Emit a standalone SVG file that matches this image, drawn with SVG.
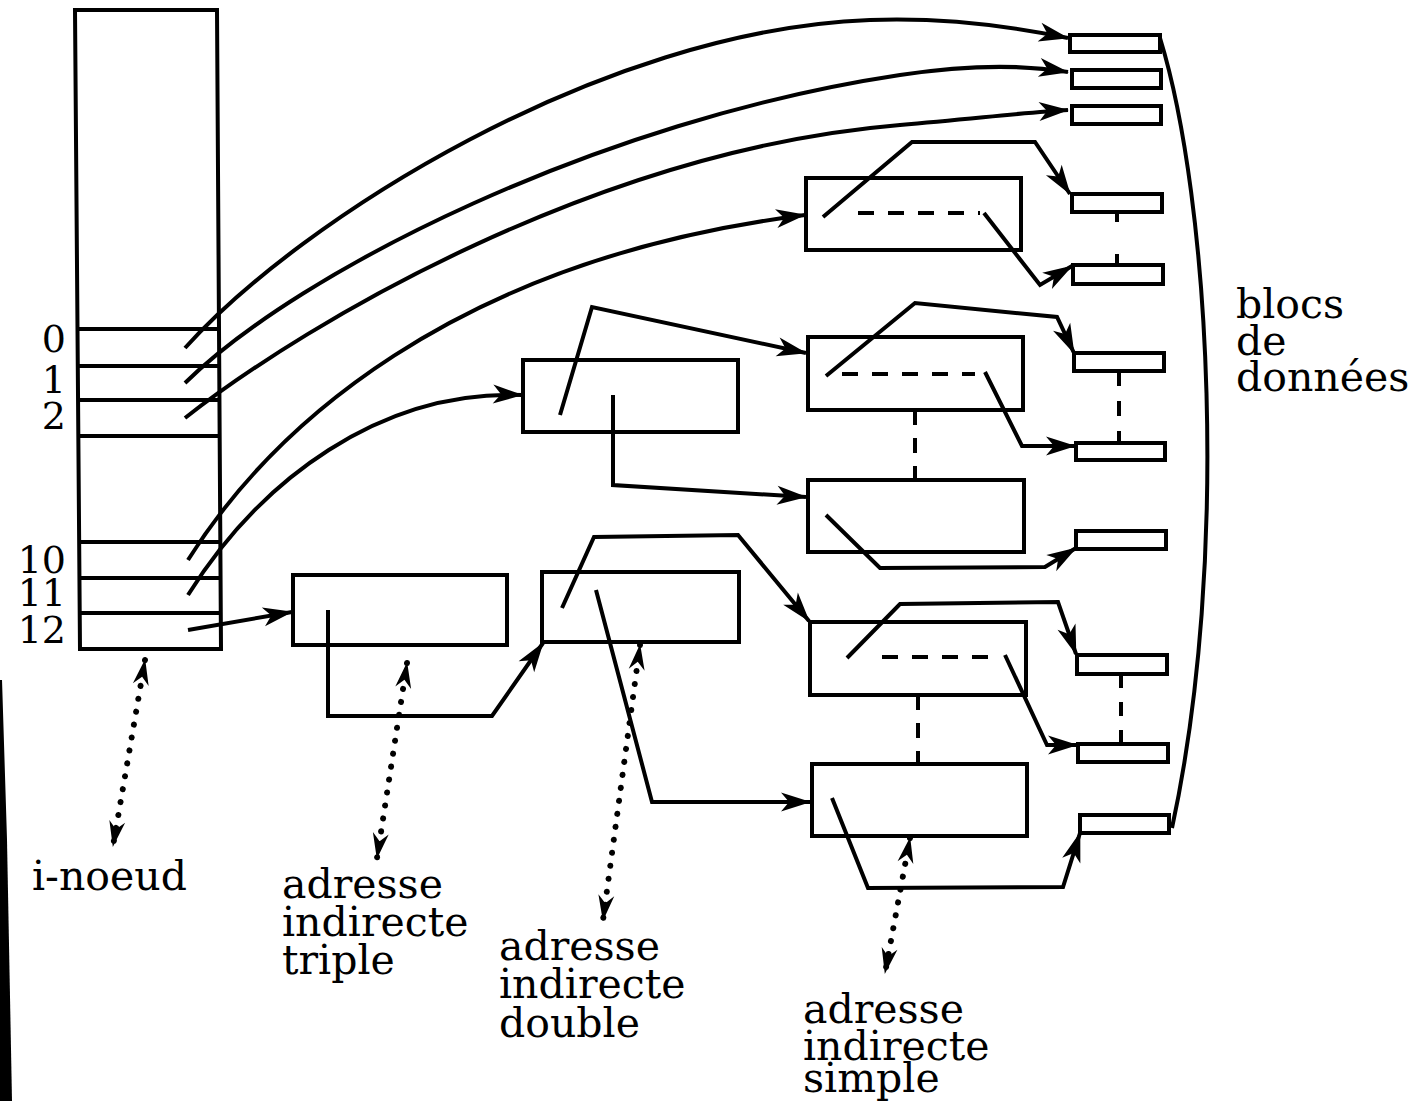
<svg xmlns="http://www.w3.org/2000/svg" width="1420" height="1101" viewBox="0 0 1420 1101">
<style>
.box{fill:none;stroke:#000;stroke-width:4}
.ln{fill:none;stroke:#000;stroke-width:4;stroke-linejoin:miter}
.ar{fill:none;stroke:#000;stroke-width:4;marker-end:url(#ah)}
.dash{fill:none;stroke:#000;stroke-width:4;stroke-dasharray:16 14}
.dot{fill:none;stroke:#000;stroke-width:6;stroke-linecap:round;stroke-dasharray:0.1 13;marker-start:url(#dh);marker-end:url(#dh)}
.t{font-family:"DejaVu Serif","Liberation Serif",serif;font-size:41px;fill:#000}
.n{font-family:"DejaVu Serif","Liberation Serif",serif;font-size:38px;fill:#000;text-anchor:end}
</style>
<defs>
<marker id="ah" markerUnits="userSpaceOnUse" markerWidth="32" markerHeight="20" refX="29" refY="9.5" orient="auto" overflow="visible">
<path d="M0,0 L30,9.5 L0,19 L8,9.5 Z" fill="#000"/>
</marker>
<marker id="dh" markerUnits="userSpaceOnUse" markerWidth="28" markerHeight="18" refX="25" refY="8" orient="auto-start-reverse" overflow="visible">
<path d="M0,0 L26,8 L0,16 L8,8 Z" fill="#000"/>
</marker>
</defs>
<rect width="1420" height="1101" fill="#fff"/>
<polygon points="0,680 2,680 7,840 12,1101 0,1101" fill="#000"/>

<g id="inode">
<path class="box" d="M75,10 L217,10 L221,649 L80,649 Z"/>
<line class="ln" x1="79" y1="329" x2="219" y2="329"/>
<line class="ln" x1="79" y1="366" x2="219" y2="366"/>
<line class="ln" x1="79" y1="400" x2="219" y2="400"/>
<line class="ln" x1="79" y1="436" x2="219" y2="436"/>
<line class="ln" x1="80" y1="542" x2="220" y2="542"/>
<line class="ln" x1="80" y1="578" x2="220" y2="578"/>
<line class="ln" x1="80" y1="613" x2="220" y2="613"/>
<text class="n"><tspan x="66" y="352">0</tspan><tspan x="66" y="393">1</tspan><tspan x="66" y="429">2</tspan><tspan x="66" y="573">10</tspan><tspan x="66" y="606">11</tspan><tspan x="66" y="643">12</tspan></text>
</g>

<g id="triple"><rect class="box" x="293" y="575" width="214" height="70"/></g>
<g id="double1"><rect class="box" x="523" y="360" width="215" height="72"/></g>
<g id="double2"><rect class="box" x="542" y="572" width="197" height="70"/></g>
<g id="simple1"><rect class="box" x="806" y="178" width="215" height="72"/></g>
<g id="simple2"><rect class="box" x="808" y="337" width="215" height="73"/></g>
<g id="simple3"><rect class="box" x="808" y="480" width="216" height="72"/></g>
<g id="simple4"><rect class="box" x="810" y="622" width="216" height="73"/></g>
<g id="simple5"><rect class="box" x="812" y="764" width="215" height="72"/></g>

<g id="data">
<rect class="box" x="1070" y="35" width="90" height="17"/>
<rect class="box" x="1072" y="70" width="89" height="18"/>
<rect class="box" x="1072" y="106" width="89" height="18"/>
<rect class="box" x="1072" y="194" width="90" height="18"/>
<rect class="box" x="1073" y="265" width="90" height="19"/>
<rect class="box" x="1074" y="353" width="90" height="18"/>
<rect class="box" x="1076" y="443" width="89" height="17"/>
<rect class="box" x="1076" y="531" width="90" height="18"/>
<rect class="box" x="1077" y="655" width="90" height="19"/>
<rect class="box" x="1078" y="744" width="90" height="18"/>
<rect class="box" x="1080" y="815" width="89" height="18"/>
<path class="ln" d="M1160,38 C1210,200 1230,560 1172,828"/>
</g>

<g id="connectors">
<path class="ar" d="M185,348 C300,220 600,30 870,20 C950,17 1020,28 1068,38"/>
<path class="ar" d="M185,383 C300,270 600,120 900,75 C980,63 1030,66 1068,72"/>
<path class="ar" d="M185,418 C310,320 600,150 900,125 C980,118 1030,112 1068,110"/>
<path class="ar" d="M188,560 C270,430 450,260 805,215"/>
<path class="ar" d="M188,595 C260,480 380,390 522,395"/>
<path class="ar" d="M188,630 L292,612"/>

<path class="ar" d="M328,610 L328,716 L492,716 L543,643"/>
<path class="ar" d="M560,415 L592,307 L806,353"/>
<path class="ar" d="M613,395 L613,485 L806,497"/>
<path class="ar" d="M562,608 L594,537 L738,535 L809,621"/>
<path class="ar" d="M596,590 L652,802 L810,802"/>

<path class="ar" d="M823,217 L912,142 L1035,142 L1070,194"/>
<path class="dash" d="M858,213 L980,213"/>
<path class="ar" d="M984,213 L1040,285 L1072,266"/>
<path class="ar" d="M826,376 L915,303 L1057,317 L1074,353"/>
<path class="dash" d="M842,374 L975,374"/>
<path class="ar" d="M985,372 L1022,446 L1075,446"/>
<path class="ar" d="M826,515 L880,568 L1045,567 L1076,548"/>
<path class="ar" d="M847,658 L900,604 L1058,602 L1076,654"/>
<path class="dash" d="M882,657 L1000,657"/>
<path class="ar" d="M1005,655 L1047,745 L1077,745"/>
<path class="ar" d="M832,798 L868,888 L1063,887 L1080,833"/>

<path class="ln" d="M1117,212 L1117,265" stroke-dasharray="10 32 11"/>
<path class="ln" d="M1119,371 L1119,443" stroke-dasharray="15 15"/>
<path class="ln" d="M1121,674 L1121,744" stroke-dasharray="14 14"/>
<path class="ln" d="M915,410 L915,480" stroke-dasharray="15 13"/>
<path class="ln" d="M918,695 L918,764" stroke-dasharray="15 13"/>

<path class="dot" d="M145,660 L113,846"/>
<path class="dot" d="M407,663 L377,858"/>
<path class="dot" d="M640,645 L603,920"/>
<path class="dot" d="M910,838 L885,973"/>
</g>

<g id="labels">
<text class="t" x="32" y="890">i-noeud</text>
<text class="t"><tspan x="282" y="898">adresse</tspan><tspan x="282" y="936">indirecte</tspan><tspan x="282" y="974">triple</tspan></text>
<text class="t"><tspan x="499" y="960">adresse</tspan><tspan x="499" y="998">indirecte</tspan><tspan x="499" y="1037">double</tspan></text>
<text class="t"><tspan x="803" y="1023">adresse</tspan><tspan x="803" y="1060">indirecte</tspan><tspan x="803" y="1092">simple</tspan></text>
<text class="t"><tspan x="1236" y="318">blocs</tspan><tspan x="1236" y="355">de</tspan><tspan x="1236" y="391">données</tspan></text>
</g>
</svg>
